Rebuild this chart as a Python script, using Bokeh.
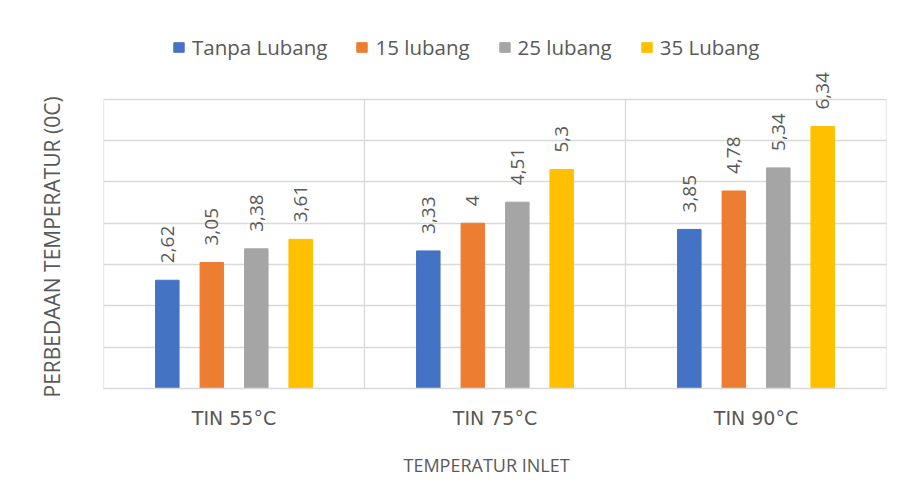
from math import pi
from bokeh.plotting import figure
from bokeh.models import (FactorRange, Range1d, ColumnDataSource, Legend, LegendItem,
                          FixedTicker, Title)
from bokeh.transform import dodge
from bokeh.core.properties import value
from bokeh.embed import file_html
from bokeh.resources import INLINE

categories = ["TIN 55°C", "TIN 75°C", "TIN 90°C"]
series_names = ["Tanpa Lubang", "15 lubang", "25 lubang", "35 Lubang"]
tanpa_lubang = [2.62, 3.33, 3.85]
lubang_15 = [3.05, 4.00, 4.78]
lubang_25 = [3.38, 4.51, 5.34]
lubang_35 = [3.61, 5.30, 6.34]
y_ticks = [0, 1, 2, 3, 4, 5, 6, 7]
x_title = "TEMPERATUR INLET"
y_title = "PERBEDAAN TEMPERATUR (0C)"

series_values = [tanpa_lubang, lubang_15, lubang_25, lubang_35]
colors = ["#4472C4", "#ED7D31", "#A5A5A5", "#FFC000"]
offsets = [-0.2555, -0.085, 0.0855, 0.2555]
FONT = "Open Sans"
TXT = "#595959"
GRID = "#d9d9d9"

# frame: gridded area is 290 px tall (0..7); extra headroom above holds legend/labels
grid_h = 290
frame_h = 365
y_end = y_ticks[-1] * frame_h / grid_h

p = figure(x_range=FactorRange(*categories, range_padding=0), y_range=Range1d(0, y_end),
           width=894, height=487, output_backend="svg", toolbar_location=None,
           min_border_left=103, min_border_right=8, min_border_top=16, min_border_bottom=106)
p.margin = (8, 0, 0, 0)
p.outline_line_color = None
p.background_fill_color = "white"
p.border_fill_color = "white"

# grids
p.xgrid.grid_line_color = None
p.ygrid.ticker = FixedTicker(ticks=y_ticks)
p.ygrid.grid_line_color = GRID
p.ygrid.grid_line_width = 1.3
bounds = list(range(len(categories) + 1))
p.segment(x0=bounds, y0=[y_ticks[0]] * len(bounds), x1=bounds, y1=[y_ticks[-1]] * len(bounds),
          line_color=GRID, line_width=1.3, level="underlay")

items = []
for name, vals, col, off in zip(series_names, series_values, colors, offsets):
    src = ColumnDataSource(dict(cat=categories, val=vals,
                                lbl=[f"{v:g}".replace(".", ",") for v in vals]))
    r = p.vbar(x=dodge("cat", off, range=p.x_range), top="val", width=0.09, source=src,
               fill_color=col, line_color=col)
    p.text(x=dodge("cat", off, range=p.x_range), y="val", text="lbl", source=src,
           angle=pi / 2, text_align="left", text_baseline="middle", y_offset=-17,
           text_font=value(FONT), text_font_size="19px", text_color=TXT)
    items.append(LegendItem(label=name, renderers=[r]))

legend = Legend(items=items, orientation="horizontal", location=(69, 327),
                glyph_width=13, glyph_height=12, label_standoff=7, spacing=28,
                padding=0, margin=0, border_line_color=None, background_fill_alpha=0,
                label_text_font=FONT, label_text_font_size="20.5px", label_text_color=TXT)
p.add_layout(legend, "center")

# y axis: hidden; its title is a left-side Title
p.yaxis.visible = False
ytitle = Title(text=y_title, align="left", offset=-9, standoff=73, vertical_align="middle",
               text_font=FONT, text_font_style="normal", text_font_size="21px",
               text_color=TXT)
p.add_layout(ytitle, "left")

p.xaxis.axis_line_color = GRID
p.xaxis.axis_line_width = 1.3
p.xaxis.major_tick_out = 0
p.xaxis.major_tick_in = 0
p.xaxis.major_tick_line_color = None
p.xaxis.minor_tick_line_color = None
p.xaxis.major_label_standoff = 18
p.xaxis.major_label_text_font = "DejaVu Sans"
p.xaxis.major_label_text_font_size = "19px"
p.xaxis.major_label_text_color = TXT
xtitle = Title(text=x_title, align="left", offset=300, standoff=38,
               text_font=FONT, text_font_style="normal", text_font_size="18px",
               text_color=TXT)
p.add_layout(xtitle, "below")

open("out.html", "w").write(file_html(p, INLINE))
